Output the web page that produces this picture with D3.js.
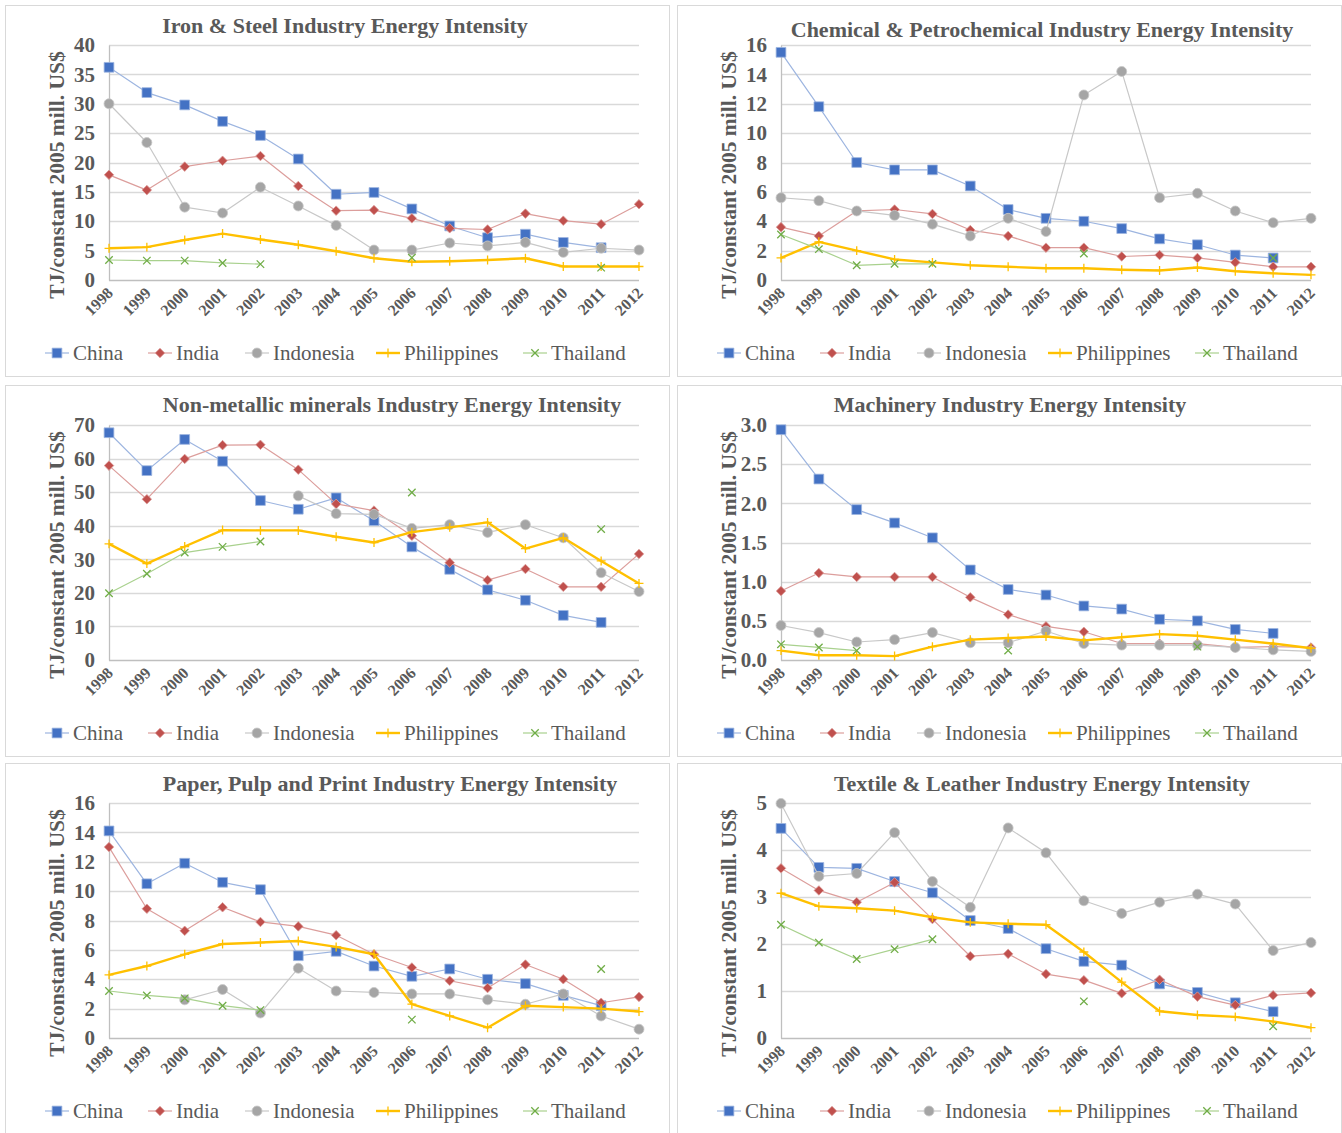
<!DOCTYPE html>
<html>
<head>
<meta charset="utf-8">
<style>
  body { margin: 0; background: #fff; }
  svg text { font-family: "Liberation Serif", "Times New Roman", serif; fill: #595959; }
</style>
</head>
<body>
<svg width="1342" height="1133"></svg>
<script src="https://d3js.org/d3.v7.min.js"></script>
<script>
var years = [1998, 1999, 2000, 2001, 2002, 2003, 2004, 2005, 2006, 2007, 2008, 2009, 2010, 2011, 2012];
var countries = ["China", "India", "Indonesia", "Philippines", "Thailand"];
var titles = [
  "Iron & Steel Industry Energy Intensity",
  "Chemical & Petrochemical Industry Energy Intensity",
  "Non-metallic minerals Industry Energy Intensity",
  "Machinery Industry Energy Intensity",
  "Paper, Pulp and Print Industry Energy Intensity",
  "Textile & Leather Industry Energy Intensity"
];
var yLabel = "TJ/constant 2005 mill. US$";

// one row per country: China, India, Indonesia, Philippines, Thailand
var ironSteel = [
  [36.2, 31.9, 29.8, 27.0, 24.6, 20.6, 14.6, 14.9, 12.1, 9.2, 7.2, 7.8, 6.4, 5.5, null],
  [17.9, 15.3, 19.3, 20.3, 21.1, 16.0, 11.8, 11.9, 10.5, 8.8, 8.6, 11.3, 10.1, 9.5, 12.9],
  [30.0, 23.4, 12.4, 11.4, 15.8, 12.6, 9.3, 5.1, 5.1, 6.3, 5.8, 6.4, 4.7, 5.4, 5.1],
  [5.4, 5.6, 6.8, 7.9, 6.9, 6.0, 4.9, 3.7, 3.1, 3.2, 3.4, 3.7, 2.3, 2.3, 2.3],
  [3.4, 3.3, 3.3, 2.9, 2.7, null, null, null, 3.8, null, null, null, null, 2.1, null]
];
var chemical = [
  [15.5, 11.8, 8.0, 7.5, 7.5, 6.4, 4.8, 4.2, 4.0, 3.5, 2.8, 2.4, 1.7, 1.5, null],
  [3.6, 3.0, 4.7, 4.8, 4.5, 3.4, 3.0, 2.2, 2.2, 1.6, 1.7, 1.5, 1.2, 0.9, 0.9],
  [5.6, 5.4, 4.7, 4.4, 3.8, 3.0, 4.2, 3.3, 12.6, 14.2, 5.6, 5.9, 4.7, 3.9, 4.2],
  [1.5, 2.6, 2.0, 1.4, 1.2, 1.0, 0.9, 0.8, 0.8, 0.7, 0.65, 0.85, 0.6, 0.45, 0.35],
  [3.1, 2.1, 1.0, 1.1, 1.1, null, null, null, 1.8, null, null, null, null, 1.5, null]
];
var nonMetallic = [
  [67.7, 56.4, 65.7, 59.2, 47.5, 44.9, 48.3, 41.5, 33.7, 27.0, 20.9, 17.8, 13.3, 11.2, null],
  [57.9, 47.9, 59.9, 64.0, 64.1, 56.7, 46.5, 44.5, 37.0, 29.0, 23.8, 27.1, 21.8, 21.8, 31.6],
  [null, null, null, null, null, 48.9, 43.6, 43.4, 39.2, 40.3, 38.0, 40.3, 36.4, 26.0, 20.4],
  [34.6, 28.7, 33.8, 38.7, 38.6, 38.6, 36.7, 35.0, 38.1, 39.5, 41.0, 33.2, 36.4, 29.5, 22.8],
  [19.9, 25.7, 32.0, 33.7, 35.3, null, null, null, 49.9, null, null, null, null, 39.0, null]
];
var machinery = [
  [2.94, 2.31, 1.92, 1.75, 1.56, 1.15, 0.90, 0.83, 0.69, 0.65, 0.52, 0.50, 0.39, 0.34, null],
  [0.88, 1.11, 1.06, 1.06, 1.06, 0.80, 0.58, 0.43, 0.36, 0.21, 0.21, 0.21, 0.16, 0.17, 0.16],
  [0.44, 0.35, 0.23, 0.26, 0.35, 0.22, 0.22, 0.37, 0.21, 0.19, 0.19, 0.19, 0.16, 0.13, 0.11],
  [0.12, 0.06, 0.06, 0.05, 0.17, 0.26, 0.28, 0.30, 0.25, 0.29, 0.33, 0.31, 0.26, 0.21, 0.15],
  [0.20, 0.16, 0.12, null, null, null, 0.12, null, null, null, null, 0.17, null, null, null]
];
var paper = [
  [14.1, 10.5, 11.9, 10.6, 10.1, 5.6, 5.9, 4.9, 4.2, 4.7, 4.0, 3.7, 2.9, 2.2, null],
  [13.0, 8.8, 7.3, 8.9, 7.9, 7.6, 7.0, 5.7, 4.8, 3.9, 3.4, 5.0, 4.0, 2.4, 2.8],
  [null, null, 2.6, 3.3, 1.7, 4.75, 3.2, 3.1, 3.0, 3.0, 2.6, 2.3, 3.0, 1.5, 0.6],
  [4.3, 4.9, 5.7, 6.4, 6.5, 6.6, 6.2, 5.7, 2.3, 1.5, 0.7, 2.2, 2.1, 2.0, 1.8],
  [3.2, 2.9, 2.7, 2.2, 1.9, null, null, null, 1.25, null, null, null, null, 4.7, null]
];
var textile = [
  [4.46, 3.63, 3.61, 3.33, 3.09, 2.50, 2.33, 1.90, 1.63, 1.55, 1.15, 0.97, 0.75, 0.56, null],
  [3.61, 3.14, 2.89, 3.31, 2.53, 1.74, 1.79, 1.36, 1.23, 0.95, 1.24, 0.88, 0.70, 0.91, 0.96],
  [4.99, 3.44, 3.50, 4.37, 3.33, 2.78, 4.47, 3.94, 2.92, 2.65, 2.89, 3.06, 2.85, 1.86, 2.03],
  [3.08, 2.80, 2.76, 2.71, 2.57, 2.46, 2.43, 2.41, 1.83, 1.19, 0.57, 0.49, 0.45, 0.35, 0.22],
  [2.41, 2.03, 1.68, 1.89, 2.10, null, null, null, 0.78, null, null, null, null, 0.25, null]
];
var yMax = [40, 16, 70, 3, 16, 5];
var yStep = [5, 2, 10, 0.5, 2, 1];
var yFormat = ["d", "d", "d", ".1f", "d", "d"];

var datasets = [ironSteel, chemical, nonMetallic, machinery, paper, textile];

// styling per country
var markerColor = ["#4472C4", "#C0504D", "#A5A5A5", "#FFC000", "#70AD47"];
var lineColor = ["#9DB5E0", "#DC9E9C", "#C8C8C8", "#FFC000", "#A9D18E"];
var lineWidth = [1.2, 1.2, 1.2, 2.4, 1.2];
var symbols = [d3.symbolSquare, d3.symbolDiamond2, d3.symbolCircle, d3.symbolPlus, d3.symbolTimes];
var symSize = [95, 58, 78, 28, 38];
var filled = [true, true, true, false, false];

var svg = d3.select("svg");

var panelX = [5, 677], panelY = [5, 385, 763];
var panelW = 664, panelH = 375;
var plot = {left: 104, top: 40, width: 530, height: 235};
var titleX = [340, 365, 387, 333, 385, 365];
var titleY = [28, 32, 27, 27, 28, 28];

datasets.forEach(function(data, p) {
  var px = panelX[p % 2], py = panelY[Math.floor(p / 2)];
  var g = svg.append("g").attr("transform", "translate(" + px + "," + py + ")");

  g.append("rect")
      .attr("x", 0.5).attr("y", 0.5)
      .attr("width", panelW).attr("height", p >= 4 ? panelH + 10 : panelH - 4)
      .attr("fill", "#fff").attr("stroke", "#d9d9d9");

  var x = d3.scaleLinear().domain([0, years.length - 1])
      .range([plot.left, plot.left + plot.width]);
  var y = d3.scaleLinear().domain([0, yMax[p]])
      .range([plot.top + plot.height, plot.top]);
  var ticks = d3.range(0, yMax[p] + yStep[p] / 2, yStep[p]);

  // gridlines
  g.append("g").selectAll("line").data(ticks.slice(1)).join("line")
      .attr("x1", plot.left).attr("x2", plot.left + plot.width)
      .attr("y1", function(d) { return Math.round(y(d)) + 0.5; })
      .attr("y2", function(d) { return Math.round(y(d)) + 0.5; })
      .attr("stroke", "#d9d9d9").attr("stroke-width", 1.3);

  // y axis
  var yAxis = g.append("g")
      .attr("transform", "translate(" + plot.left + ",0)")
      .call(d3.axisLeft(y).tickValues(ticks).tickFormat(d3.format(yFormat[p])).tickSize(0).tickPadding(14));
  yAxis.select(".domain").attr("stroke", "#bfbfbf").attr("stroke-width", 1.3);
  yAxis.selectAll("text")
      .style("font-family", "Liberation Serif").style("font-size", "21px")
      .style("font-weight", "bold").attr("fill", "#595959");

  // x axis
  g.append("line")
      .attr("x1", plot.left).attr("x2", plot.left + plot.width)
      .attr("y1", plot.top + plot.height + 0.5).attr("y2", plot.top + plot.height + 0.5)
      .attr("stroke", "#bfbfbf").attr("stroke-width", 1.3);
  g.append("g").selectAll("text").data(years).join("text")
      .attr("transform", function(d, i) {
        return "translate(" + (x(i) + 5) + "," + (plot.top + plot.height + 14) + ") rotate(-45)";
      })
      .attr("text-anchor", "end")
      .style("font-size", "16px").style("font-weight", "bold")
      .text(function(d) { return d; });

  // titles
  g.append("text")
      .attr("x", titleX[p]).attr("y", titleY[p])
      .attr("text-anchor", "middle")
      .style("font-size", "22px").style("font-weight", "bold")
      .text(titles[p]);
  g.append("text")
      .attr("transform", "translate(59," + (plot.top + 130) + ") rotate(-90)")
      .attr("text-anchor", "middle")
      .style("font-size", "21.5px").style("font-weight", "bold")
      .text(yLabel);

  // series
  var line = d3.line()
      .defined(function(d) { return d != null; })
      .x(function(d, i) { return x(i); })
      .y(function(d) { return y(d); });

  data.forEach(function(values, c) {
    var s = g.append("g");
    s.append("path")
        .datum(values)
        .attr("d", line)
        .attr("fill", "none")
        .attr("stroke", lineColor[c])
        .attr("stroke-width", lineWidth[c])
        .attr("stroke-linejoin", "round");
    s.selectAll("path.m")
        .data(values.map(function(v, i) { return {v: v, i: i}; }).filter(function(d) { return d.v != null; }))
        .join("path")
        .attr("class", "m")
        .attr("transform", function(d) { return "translate(" + x(d.i) + "," + y(d.v) + ")"; })
        .attr("d", d3.symbol().type(symbols[c]).size(symSize[c]))
        .attr("fill", filled[c] ? markerColor[c] : "none")
        .attr("stroke", filled[c] ? lineColor[c] : markerColor[c])
        .attr("stroke-width", filled[c] ? 0.8 : 1.3);
  });

  // legend
  var lx = [40, 143, 240, 371, 518];
  var leg = g.append("g").attr("transform", "translate(0,348)");
  countries.forEach(function(name, c) {
    leg.append("line")
        .attr("x1", lx[c]).attr("x2", lx[c] + 24)
        .attr("stroke", lineColor[c]).attr("stroke-width", lineWidth[c]);
    leg.append("path")
        .attr("transform", "translate(" + (lx[c] + 12) + ",0)")
        .attr("d", d3.symbol().type(symbols[c]).size(symSize[c]))
        .attr("fill", filled[c] ? markerColor[c] : "none")
        .attr("stroke", filled[c] ? lineColor[c] : markerColor[c])
        .attr("stroke-width", filled[c] ? 0.8 : 1.3);
    leg.append("text")
        .attr("x", lx[c] + 28).attr("y", 7)
        .style("font-size", "21px")
        .text(name);
  });
});
</script>
</body>
</html>
